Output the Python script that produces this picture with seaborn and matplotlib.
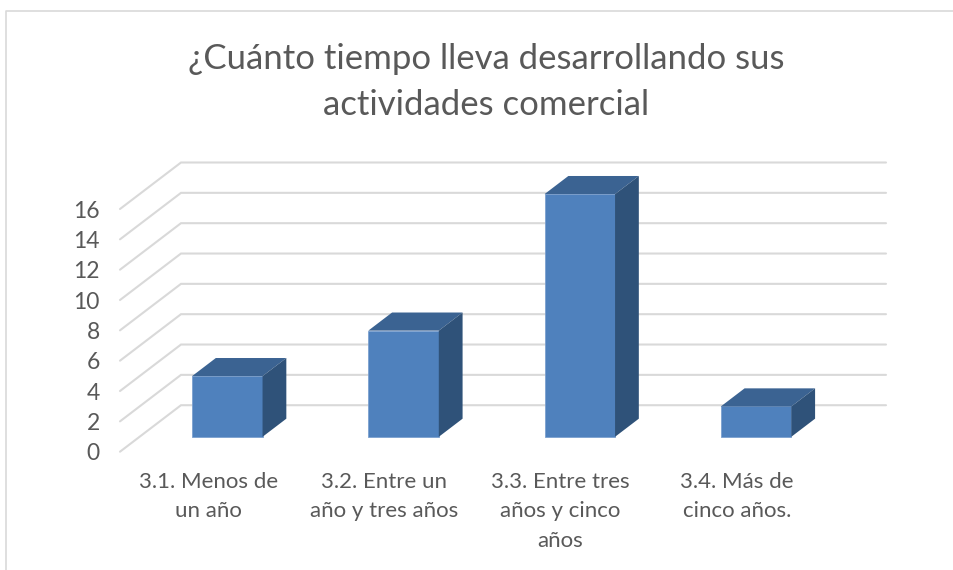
import matplotlib
matplotlib.use("Agg")
import matplotlib.pyplot as plt
from matplotlib.lines import Line2D
import pandas as pd
import seaborn as sns

categorias = ["3.1. Menos de\nun año", "3.2. Entre un\naño y tres años",
              "3.3. Entre tres\naños y cinco\naños", "3.4. Más de\ncinco años."]
valores = [4, 7, 16, 2]
ticks_y = [0, 2, 4, 6, 8, 10, 12, 14, 16]
titulo = "¿Cuánto tiempo lleva desarrollando sus\nactividades comercial"

sns.set_theme(style="white")
plt.rcParams["font.family"] = ["Lato", "DejaVu Sans"]

W, H = 954, 570
gris = "#595959"
# profundidad del piso en unidades de datos
prof_x = 61 / 176.25
prof_y = 46.5 / 15.17
bar_ini = 0.32
bar_fin = 0.71

fig = plt.figure(figsize=(W / 100, H / 100), dpi=100, facecolor="white")
ax = fig.add_axes([120 / W, 1 - 451.7 / H, 705 / W, 242.7 / H])

df = pd.DataFrame({"categoria": categorias, "valor": valores})
sns.barplot(data=df, x="categoria", y="valor", color="#4f81bd", saturation=1,
            width=0.4, ax=ax, zorder=3, edgecolor="#7ba0cf", linewidth=0.6)

ax.set_xlim(-0.5, 3.5)
ax.set_ylim(0, 16)
ax.set_xlabel("")
ax.set_ylabel("")
sns.despine(ax=ax, left=True, bottom=True)

# paredes: rejilla del fondo y diagonales
for v in ticks_y:
    ax.plot([-0.5, -0.5 + prof_x, 3.5 + prof_x], [v, v + prof_y, v + prof_y],
            color="#d9d9d9", lw=1.5, clip_on=False, zorder=1,
            solid_joinstyle="miter")

# cada barra se mueve dentro del piso y se le agregan tapa y costado
for p in ax.patches:
    p.set_x(p.get_x() + prof_x * bar_ini - 0.002)
    p.set_y(prof_y * bar_ini)
    p.set_clip_on(False)
    x0, x1 = p.get_x(), p.get_x() + p.get_width()
    y0, y1 = p.get_y(), p.get_y() + p.get_height()
    dx = prof_x * (bar_fin - bar_ini)
    dy = prof_y * (bar_fin - bar_ini)
    ax.fill([x0, x1, x1 + dx, x0 + dx], [y1, y1, y1 + dy, y1 + dy],
            color="#3b6392", lw=0, clip_on=False, zorder=3)
    ax.fill([x1, x1 + dx, x1 + dx, x1], [y0, y0 + dy, y1 + dy, y1],
            color="#2f5279", lw=0, clip_on=False, zorder=3)

ax.set_yticks(ticks_y)
ax.tick_params(axis="y", length=0, pad=14.5, labelsize=16.5, labelcolor=gris)
ax.tick_params(axis="x", length=0, pad=14.5, labelsize=16, labelcolor=gris)
for t in ax.get_xticklabels():
    t.set_linespacing(1.6)

fig.text(486.5 / W, 1 - 82 / H, titulo, ha="center", va="center", fontsize=25,
         color=gris, linespacing=1.56)

# borde del cuadro
fig.add_artist(Line2D([6 / W, 6 / W, 1], [0, 1 - 11 / H, 1 - 11 / H],
                      color="#d9d9d9", lw=1.2, transform=fig.transFigure))

fig.savefig("out.png", dpi=100)
